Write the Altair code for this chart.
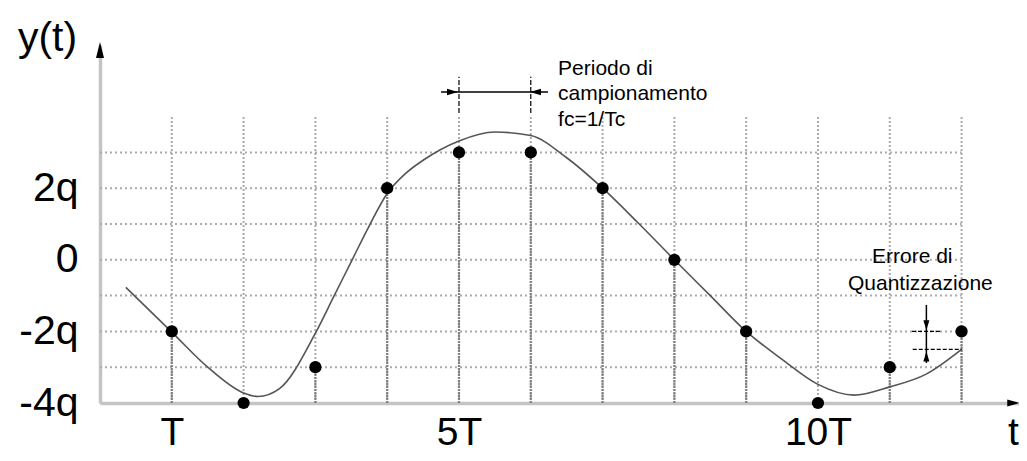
import altair as alt
import pandas as pd

# ---------------- data ----------------
SAMPLE_T = [1, 2, 3, 4, 5, 6, 7, 8, 9, 10, 11, 12]
SAMPLE_Q = [-2, -4, -3, 2, 3, 3, 2, 0, -2, -4, -3, -2]

CURVE_T = [0.36, 1, 1.5, 2, 2.2, 2.5, 3, 3.25, 3.5, 3.75, 4, 4.25, 4.5, 5,
           5.5, 6, 6.5, 7, 7.5, 8, 8.5, 9, 9.5, 10, 10.5, 11, 11.5, 12]
CURVE_Q = [-0.77, -2.02, -3.0, -3.72, -3.82, -3.6, -2.05, -1.05, -0.05, 0.95,
           1.85, 2.4, 2.78, 3.32, 3.57, 3.47, 2.85, 2.0, 1.02, 0.0, -1.0, -2.0,
           -2.78, -3.48, -3.78, -3.55, -3.2, -2.5]

X_TICKS = [1, 5, 10]
X_TICK_LABELS = ["T", "5T", "10T"]
Y_TICKS = [-4, -2, 0, 2]
Y_TICK_LABELS = ["-4q", "-2q", "0", "2q"]
GRID_Q = [-3, -2, -1, 0, 1, 2, 3]

PERIOD_LINES = ["Periodo di", "campionamento", "fc=1/Tc"]
ERROR_LINES = ["Errore di", "Quantizzazione"]

# ---------------- layout constants (data units) ----------------
X_MIN, X_MAX = 0, 12.8
Y_MIN, Y_MAX = -4, 6
GRID_X_END = 12
VGRID_TOP = 4

PERIOD_TEXT_X = 6.38
PERIOD_TEXT_Y = [5.162, 4.464, 3.737]
PERIOD_BAR = dict(x0=4.75, x1=6.24, v=4.687)
PERIOD_TICK = dict(t=[5, 6], y0=4.10, y1=5.11)
PERIOD_HEADS = dict(right=4.91, left=6.065)

ERROR_TEXT_X = [10.752, 10.418]
ERROR_TEXT_Y = [-0.089, -0.844]
ERR_X = 11.51
ERR_LINE = dict(y0=-1.26, y1=-2.88)
ERR_DASH_UP = dict(x0=11.31, x1=11.70, v=-2.0)
ERR_DASH_LO = dict(x0=11.32, x1=12.0, v=-2.5)
ERR_HEADS = dict(down=-1.83, up=-2.70)

Y_ARROW = dict(t=0, v=5.86)
X_ARROW = dict(t=12.72, v=-4)

FONT = "Liberation Sans"


def label_expr(vals, labels):
    expr = "''"
    for v, l in zip(reversed(vals), reversed(labels)):
        expr = f"datum.value == {v} ? '{l}' : ({expr})"
    return expr


xs = alt.Scale(domain=[X_MIN, X_MAX], nice=False, zero=False)
ys = alt.Scale(domain=[Y_MIN, Y_MAX], nice=False, zero=False)

x_axis = alt.Axis(
    values=X_TICKS, labelExpr=label_expr(X_TICKS, X_TICK_LABELS),
    title="t", titleX=913, titleY=29, titleAngle=0, titleAlign="center",
    titleBaseline="middle", titleFont=FONT, titleFontSize=39,
    titleFontWeight="normal", titleColor="black",
    labelFont=FONT, labelFontSize=39, labelColor="black",
    labelBaseline="middle", labelPadding=29, labelOverlap=False, labelFlush=False,
    ticks=False, tickSize=0, grid=False,
    domainColor="#c4c4c4", domainWidth=3.5,
)
y_axis = alt.Axis(
    values=Y_TICKS, labelExpr=label_expr(Y_TICKS, Y_TICK_LABELS),
    title="y(t)", titleX=-53, titleY=-7, titleAngle=0, titleAlign="center",
    titleBaseline="middle", titleFont=FONT, titleFontSize=41,
    titleFontWeight="normal", titleColor="black",
    labelFont=FONT, labelFontSize=41, labelColor="black",
    labelAlign="right", labelBaseline="middle", labelPadding=22,
    labelOverlap=False, labelFlush=False,
    ticks=False, tickSize=0, grid=False,
    domainColor="#c4c4c4", domainWidth=3.5,
)


def X(f):
    return alt.X(f, type="quantitative", scale=xs, axis=x_axis)


def Y(f):
    return alt.Y(f, type="quantitative", scale=ys, axis=y_axis)


# ---------------- tables ----------------
samples = pd.DataFrame({"t": SAMPLE_T, "v": SAMPLE_Q, "base": [Y_MIN] * len(SAMPLE_T)})
vgrid = pd.DataFrame({"t": SAMPLE_T, "y0": [Y_MIN] * len(SAMPLE_T), "y1": [VGRID_TOP] * len(SAMPLE_T)})
hgrid = pd.DataFrame({"v": GRID_Q, "x0": [X_MIN] * len(GRID_Q), "x1": [GRID_X_END] * len(GRID_Q)})
curve = pd.DataFrame({"t": CURVE_T, "v": CURVE_Q})

hgrid_layer = alt.Chart(hgrid).mark_rule(
    color="#aaaaaa", strokeWidth=2, strokeDash=[2, 3]
).encode(y=Y("v"), x=X("x0"), x2="x1:Q")

vgrid_layer = alt.Chart(vgrid).mark_rule(
    color="#aaaaaa", strokeWidth=2, strokeDash=[2, 2]
).encode(x=X("t"), y=Y("y0"), y2="y1:Q")

stems_layer = alt.Chart(samples).mark_rule(
    color="#808080", strokeWidth=2.2, strokeDash=[2, 1]
).encode(x=X("t"), y=Y("base"), y2="v:Q")

curve_layer = alt.Chart(curve).mark_line(
    color="#555555", strokeWidth=1.6, interpolate="monotone"
).encode(x=X("t"), y=Y("v"))

points_layer = alt.Chart(samples).mark_circle(
    size=150, color="black", opacity=1
).encode(x=X("t"), y=Y("v"))

# ---- period annotation ----
period_text = alt.Chart(pd.DataFrame({
    "txt": PERIOD_LINES, "t": [PERIOD_TEXT_X] * 3, "v": PERIOD_TEXT_Y
})).mark_text(align="left", baseline="alphabetic", font=FONT, fontSize=21,
              color="black").encode(x=X("t"), y=Y("v"), text="txt:N")

period_bar = alt.Chart(pd.DataFrame({
    "x0": [PERIOD_BAR["x0"]], "x1": [PERIOD_BAR["x1"]], "v": [PERIOD_BAR["v"]]
})).mark_rule(color="black", strokeWidth=1.5).encode(x=X("x0"), x2="x1:Q", y=Y("v"))

period_ticks = alt.Chart(pd.DataFrame({
    "t": PERIOD_TICK["t"], "y0": [PERIOD_TICK["y0"]] * 2, "y1": [PERIOD_TICK["y1"]] * 2
})).mark_rule(color="black", strokeWidth=1.2, strokeDash=[5, 2]).encode(
    x=X("t"), y=Y("y0"), y2="y1:Q")

RIGHT_HEAD = "M1,0L-1,0.6L-1,-0.6Z"
LEFT_HEAD = "M-1,0L1,0.6L1,-0.6Z"
UP_HEAD = "M0,-1L0.6,1L-0.6,1Z"
DOWN_HEAD = "M0,1L0.6,-1L-0.6,-1Z"
UP_AXIS_HEAD = "M0,-1L0.5,1L-0.5,1Z"


def head(df, shape, size):
    return alt.Chart(df).mark_point(
        shape=shape, size=size, filled=True, fill="black",
        strokeWidth=0, opacity=1
    ).encode(x=X("t"), y=Y("v"))


period_heads = alt.layer(
    head(pd.DataFrame({"t": [PERIOD_HEADS["right"]], "v": [PERIOD_BAR["v"]]}), RIGHT_HEAD, 121),
    head(pd.DataFrame({"t": [PERIOD_HEADS["left"]], "v": [PERIOD_BAR["v"]]}), LEFT_HEAD, 121),
)

# ---- quantization error annotation ----
error_text = alt.Chart(pd.DataFrame({
    "txt": ERROR_LINES, "t": ERROR_TEXT_X, "v": ERROR_TEXT_Y
})).mark_text(align="left", baseline="alphabetic", font=FONT, fontSize=21,
              color="black").encode(x=X("t"), y=Y("v"), text="txt:N")

err_line = alt.Chart(pd.DataFrame({
    "t": [ERR_X], "y0": [ERR_LINE["y0"]], "y1": [ERR_LINE["y1"]]
})).mark_rule(color="black", strokeWidth=1.5).encode(x=X("t"), y=Y("y0"), y2="y1:Q")

err_dash = alt.Chart(pd.DataFrame({
    "x0": [ERR_DASH_UP["x0"], ERR_DASH_LO["x0"]],
    "x1": [ERR_DASH_UP["x1"], ERR_DASH_LO["x1"]],
    "v": [ERR_DASH_UP["v"], ERR_DASH_LO["v"]],
})).mark_rule(color="black", strokeWidth=1.2, strokeDash=[4, 2]).encode(
    x=X("x0"), x2="x1:Q", y=Y("v"))

err_heads = alt.layer(
    head(pd.DataFrame({"t": [ERR_X], "v": [ERR_HEADS["down"]]}), DOWN_HEAD, 100),
    head(pd.DataFrame({"t": [ERR_X], "v": [ERR_HEADS["up"]]}), UP_HEAD, 100),
)

# ---- axis arrow heads ----
axis_heads = alt.layer(
    head(pd.DataFrame({"t": [Y_ARROW["t"]], "v": [Y_ARROW["v"]]}), UP_AXIS_HEAD, 256),
    head(pd.DataFrame({"t": [X_ARROW["t"]], "v": [X_ARROW["v"]]}), RIGHT_HEAD, 144),
)

chart = alt.layer(
    hgrid_layer, vgrid_layer, stems_layer, curve_layer, points_layer,
    period_ticks, period_bar, period_heads, period_text,
    err_dash, err_line, err_heads, error_text, axis_heads,
).properties(
    width=919, height=358,
    autosize=alt.AutoSizeParams(type="none"),
    padding={"left": 92, "top": 37, "right": 0, "bottom": 50},
    background="white",
).configure_view(stroke=None)

chart.save("out.html", embed_options={"renderer": "svg", "actions": False})
